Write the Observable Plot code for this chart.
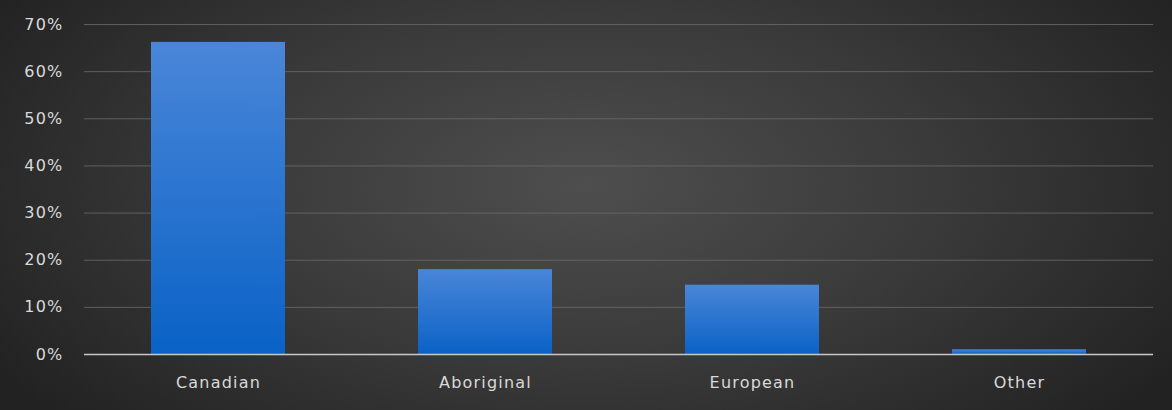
<!DOCTYPE html>
<html><head><meta charset="utf-8">
<script src="https://cdn.jsdelivr.net/npm/d3@7"></script>
<script src="https://cdn.jsdelivr.net/npm/@observablehq/plot@0.6"></script>
<style>
html,body{margin:0;padding:0;background:#1f1f1f;}
#chart{width:1172px;height:410px;}
</style></head>
<body><div id="chart"></div>
<script>
const categories = ["Canadian", "Aboriginal", "European", "Other"];
const shares = [0.662, 0.18, 0.147, 0.01];
const yTicks = [0, 0.1, 0.2, 0.3, 0.4, 0.5, 0.6, 0.7];

const data = categories.map((c, i) => ({category: c, share: shares[i]}));

const chart = Plot.plot({
  width: 1172,
  height: 410,
  marginTop: 24,
  marginBottom: 56,
  marginLeft: 84,
  marginRight: 19,
  style: {
    background: "radial-gradient(ellipse 60% 85% at 50% 45%, #4e4e4e 0%, #3a3a3a 50%, #222 100%)",
    color: "#d9d9d9",
    fontFamily: "'DejaVu Sans', sans-serif",
    fontSize: "16px",
    letterSpacing: "1.2px"
  },
  x: {domain: categories, paddingInner: 0.5, paddingOuter: 0.25, label: null, tickSize: 0, tickPadding: 22},
  y: {domain: [0, 0.7], ticks: yTicks, tickFormat: d => Math.round(d * 100) + "%", label: null, tickSize: 0, tickPadding: 21},
  marks: [
    Plot.gridY(yTicks.filter(d => d > 0), {stroke: "#6a6a6a", strokeOpacity: 0.8}),
    Plot.barY(data, {x: "category", y: "share", fill: "url(#barGrad)"}),
    Plot.ruleY([0], {stroke: "#c8c8c8", strokeWidth: 1.5})
  ]
});

const defs = d3.select(chart).insert("defs", ":first-child");
const g = defs.append("linearGradient").attr("id", "barGrad").attr("x1", 0).attr("y1", 0).attr("x2", 0).attr("y2", 1);
g.append("stop").attr("offset", "0%").attr("stop-color", "#4a86d8");
g.append("stop").attr("offset", "100%").attr("stop-color", "#0a62c6");

document.getElementById("chart").appendChild(chart);
</script>
</body></html>
